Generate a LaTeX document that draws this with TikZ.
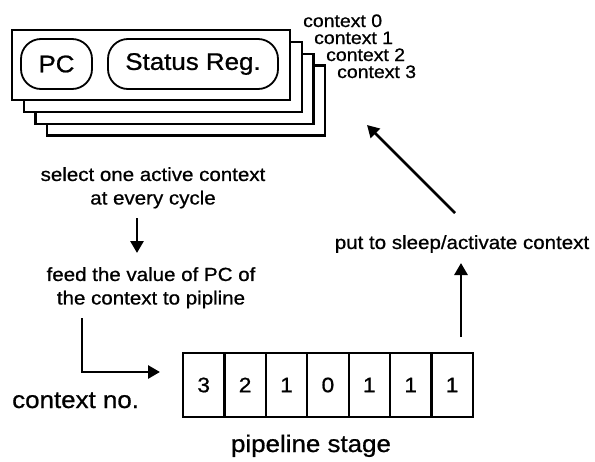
\documentclass[tikz,border=0pt]{standalone}
\usepackage{fontspec}
\setmainfont{Liberation Sans}[FakeStretch=1.08,FakeBold=0.8]
\usetikzlibrary{arrows.meta}
\begin{document}
\begin{tikzpicture}[x=1pt,y=-1pt,
  ctxbox/.style={draw,line width=2.2pt,fill=white},
  regbox/.style={draw,line width=1.8pt,rounded corners=20pt,minimum height=50pt,inner sep=0pt,font=\fontsize{24}{28}\selectfont},
  cell/.style={draw,line width=2.2pt,minimum width=41.4pt,minimum height=64pt,inner sep=0pt,font=\fontsize{21}{25}\selectfont},
  small/.style={inner sep=0pt,align=center,font=\fontsize{19}{23.5}\selectfont},
  tiny/.style={inner sep=0pt,anchor=base west,font=\fontsize{18}{20}\selectfont},
  big/.style={inner sep=0pt,font=\fontsize{24}{28}\selectfont},
  arr/.style={line width=2.8pt,-{Triangle[length=12pt,width=13pt]}}]
\useasboundingbox (0,0) rectangle (595,461);

% stacked register sets, drawn back to front
\foreach \k in {3,2,1,0}{
  \node[ctxbox,minimum width={278pt},minimum height={70pt},inner sep=0pt]
    (ctx\k) at ({151+11.7*\k},{65+11.8*\k}) {};
}
\node[regbox,minimum width=71pt] (pc) at (56.5,64) {PC};
\node[regbox,minimum width=170pt] (sr) at (193,64) {Status Reg.};

% context labels
\node[tiny] (l0) at (303,27) {context 0};
\node[tiny] (l1) at (314,44) {context 1};
\node[tiny] (l2) at (326,61) {context 2};
\node[tiny] (l3) at (337,78) {context 3};

% left column
\node[small,anchor=north] (sel) at (153,167) {select one active context\\at every cycle};
\node[small,anchor=north] (feed) at (151,267) {feed the value of PC of\\the context to pipline};

% pipeline stages
\foreach \v [count=\i from 0] in {3,2,1,0,1,1,1}{
  \node[cell] (c\i) at ({183+41.4*(\i+0.5)},385) {\raisebox{-3pt}{\v}};
}
\node[big,anchor=base west] (cno) at (12,408) {context no.};
\node[big,anchor=base] (ps) at (311,452) {pipeline stage};

% right column
\node[small,anchor=north] (put) at (462,235) {put to sleep/activate context};

% connectors
\coordinate (d1) at (137,218);
\coordinate (d2) at (137,253);
\draw[arr] (d1) -- (d2);

\coordinate (f1) at (82,318);
\coordinate (f2) at (160,372);
\draw[arr] (f1) |- (f2);

\coordinate (u1) at (461,337);
\coordinate (u2) at (461,263);
\draw[arr] (u1) -- (u2);

\coordinate (a1) at (455,213);
\coordinate (a2) at (367,125);
\draw[arr] (a1) -- (a2);
\end{tikzpicture}
\end{document}
